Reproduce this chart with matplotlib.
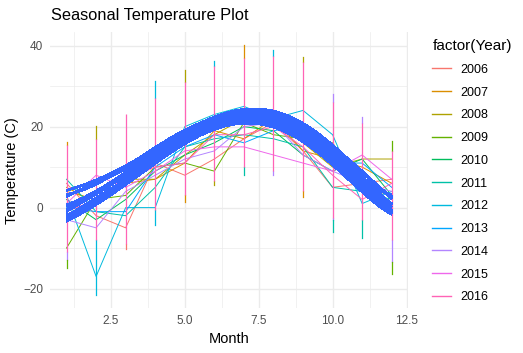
import numpy as np
import matplotlib
matplotlib.use("Agg")
import matplotlib.pyplot as plt
from matplotlib.lines import Line2D

plt.rcParams['font.family'] = ['Liberation Sans', 'DejaVu Sans']

months = list(range(1, 13))
years = [2006, 2007, 2008, 2009, 2010, 2011, 2012, 2013, 2014, 2015, 2016]
colors = ["#F8766D", "#DB8E00", "#AEA200", "#64B200", "#00BD5C", "#00C1A7",
          "#00BADE", "#00A6FF", "#B385FF", "#EF67EB", "#FF63B6"]

# monthly temperatures per year
temp_2006 = [6, -2, -5, 11, 8, 12, 17, 21, 14, 5, 6, 7]
temp_2007 = [4, 2, 6, 7, 11, 19, 17, 22, 14, 12, 10, 6]
temp_2008 = [5, 1, 7, 7, 13, 18, 22, 21, 16, 10, 12, 12]
temp_2009 = [-10, 2, 3, 10, 11, 9, 21, 18, 17, 16, 5, 3]
temp_2010 = [2, -3, 2, 9, 13, 16, 20, 19, 13, 9, 12, 3]
temp_2011 = [7, -1, -2, 5, 15, 17, 18, 17, 15, 5, 4, 2]
temp_2012 = [3, -17, 0, 0, 20, 23, 25, 22, 24, 18, 1, 4]
temp_2013 = [0, -1, -1, 10, 15, 18, 16, 19, 20, 11, 11, 5]
temp_2014 = [-3, -5, 4, 8, 12, 14, 20, 21, 13, 9, 6, 4]
temp_2015 = [1, 8, 5, 9, 14, 15, 15, 13, 11, 9, 13, 7]
temp_2016 = [-1, 2, 7, 10, 11, 18, 18, 20, 15, 8, 2, 6]
temps = [temp_2006, temp_2007, temp_2008, temp_2009, temp_2010, temp_2011,
         temp_2012, temp_2013, temp_2014, temp_2015, temp_2016]

# monthly extremes of 2016 (vertical spikes)
spike_top = [15.5, 17, 23, 27, 31, 35, 37, 37.5, 36, 26, 21, 14]
spike_bot = [-11, -8, -9, -0.5, 3, 6.5, 10, 9, 4, -2.5, -3, -8]

# extreme tips of other years
tip_month = [1, 1, 1, 2, 2, 3, 4, 4, 5, 5, 6, 6, 7, 7, 8, 8, 9, 9, 10, 10, 10, 11, 11, 12, 12, 12]
tip_year = [2007, 2014, 2009, 2008, 2012, 2006, 2012, 2012, 2008, 2007, 2012, 2008, 2007, 2011,
            2012, 2014, 2008, 2007, 2014, 2014, 2011, 2014, 2011, 2009, 2014, 2009]
tip_from = [15.5, -11, -13, 17, -8, -9, 27, -0.5, 31, 3, 35, 6.5, 37, 10, 37.5, 9, 36, 4, 26, -2.5, -3, 21, -3, 14, -8, -13.5]
tip_to = [16.2, -13, -15, 20.2, -21.7, -10.3, 31.3, -4.3, 34, 1.5, 36.3, 5.5, 40.2, 8, 39, 8, 37.3, 2.7, 28, -3, -6, 22.5, -7.5, 16.5, -13.5, -16.5]

# smoothed (loess) values per year at each month
smooth_2006 = [4.0, 7.5, 10.0, 14.0, 19.0, 22.3, 24.8, 24.0, 20.3, 14.6, 9.8, 2.4]
smooth_2007 = [3.0, 6.4, 9.8, 14.4, 19.4, 21.8, 23.9, 23.2, 19.4, 13.9, 10.3, 1.8]
smooth_2008 = [2.5, 6.9, 9.0, 13.3, 18.4, 21.4, 24.3, 23.6, 19.9, 13.0, 8.6, 2.8]
smooth_2009 = [0.6, 4.2, 8.4, 13.6, 18.9, 20.8, 22.7, 22.5, 18.9, 12.6, 7.3, 0.9]
smooth_2010 = [0.0, 5.1, 7.6, 12.9, 18.1, 20.5, 23.3, 22.1, 18.3, 13.5, 8.8, 0.2]
smooth_2011 = [-0.6, 3.6, 8.0, 12.6, 17.7, 20.1, 22.6, 22.9, 17.6, 11.8, 7.8, -0.3]
smooth_2012 = [-1.3, 4.6, 7.1, 12.2, 18.3, 21.0, 23.0, 21.7, 18.6, 12.2, 6.6, -0.9]
smooth_2013 = [-2.1, 2.7, 6.7, 11.9, 17.4, 19.8, 22.1, 21.4, 17.2, 11.3, 7.1, -1.4]
smooth_2014 = [-2.6, 3.3, 6.1, 11.4, 17.0, 19.5, 21.8, 21.9, 16.6, 10.7, 6.0, 0.5]
smooth_2015 = [-3.2, 2.0, 5.6, 11.1, 16.7, 19.2, 21.4, 21.0, 16.1, 10.2, 5.5, -1.8]
smooth_2016 = [-3.6, 1.5, 5.2, 10.6, 16.3, 18.9, 21.1, 20.6, 15.7, 9.7, 5.0, -2.0]
smooths = [smooth_2006, smooth_2007, smooth_2008, smooth_2009, smooth_2010, smooth_2011,
           smooth_2012, smooth_2013, smooth_2014, smooth_2015, smooth_2016]

fig = plt.figure(figsize=(5.23, 3.53), dpi=100)
ax = fig.add_axes([0.0961, 0.1275, 0.684, 0.781])

color_of = dict(zip(years, colors))

for yr, col, t in zip(years[:-1], colors[:-1], temps[:-1]):
    ax.plot(months, t, color=col, lw=0.7, zorder=2)

for m, yr, a, b in zip(tip_month, tip_year, tip_from, tip_to):
    ax.plot([m, m], [a, b], color=color_of[yr], lw=0.9, zorder=2.5)

ax.plot(months, temps[-1], color=colors[-1], lw=0.7, zorder=3)
ax.vlines(months, spike_bot, spike_top, color=colors[-1], lw=0.9, zorder=3)

xs = np.linspace(1, 12, 200)
for s in smooths:
    p = np.polyfit(months, s, 5)
    ax.plot(xs, np.polyval(p, xs), color="#3366FF", lw=1.3, zorder=4,
            solid_capstyle='butt', antialiased=False)

ax.set_xlim(0.45, 12.55)
ax.set_ylim(-24.8, 43.3)
ax.set_xticks([2.5, 5.0, 7.5, 10.0, 12.5])
ax.set_xticklabels(["2.5", "5.0", "7.5", "10.0", "12.5"])
ax.set_yticks([-20, 0, 20, 40])
ax.set_xticks([1.25, 3.75, 6.25, 8.75, 11.25], minor=True)
ax.set_yticks([-10, 10, 30], minor=True)
ax.grid(True, which='major', color='#EBEBEB', lw=1.0)
ax.grid(True, which='minor', color='#EBEBEB', lw=0.5)
ax.set_axisbelow(True)
for sp in ax.spines.values():
    sp.set_visible(False)
ax.tick_params(which='both', length=0, labelsize=8.5, labelcolor='#4D4D4D', pad=5)
ax.set_xlabel("Month", fontsize=10.5, labelpad=4)
ax.set_ylabel("Temperature (C)", fontsize=10.5, labelpad=3)

fig.text(0.097, 0.956, "Seasonal Temperature Plot", fontsize=11.8, ha='left', va='center')

handles = [Line2D([0], [0], color=c, lw=1.0) for c in colors]
leg = fig.legend(handles, [str(y) for y in years], title="factor(Year)",
                 loc='upper left', bbox_to_anchor=(0.815, 0.907), frameon=False,
                 fontsize=9, title_fontsize=11, handlelength=1.5,
                 labelspacing=0.86, handletextpad=0.75, borderpad=0)
leg._legend_box.align = "left"

fig.savefig("out.png", dpi=100)
